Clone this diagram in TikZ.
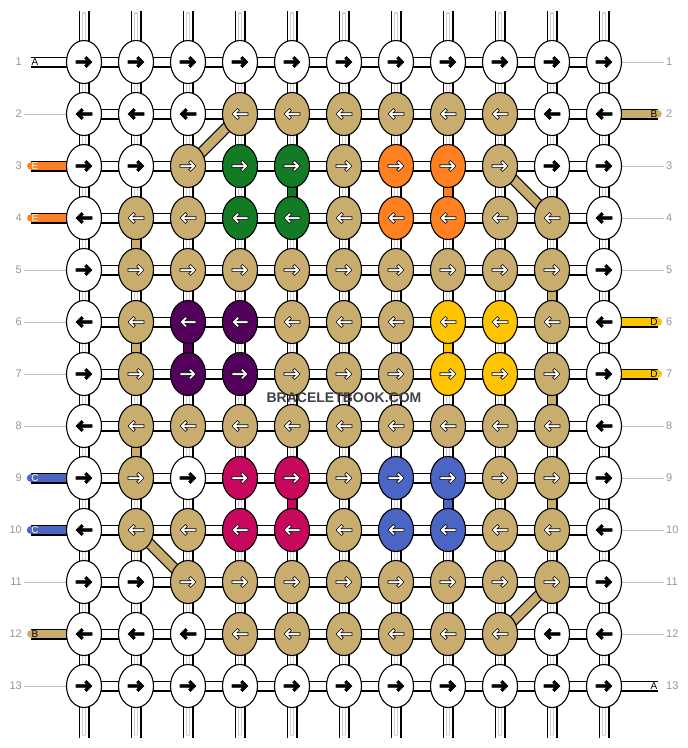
\documentclass[tikz,border=0pt]{standalone}
\usepackage{fontspec}
\setmainfont{Liberation Sans}
\usetikzlibrary{calc,shapes.geometric}

\definecolor{kw}{RGB}{255,255,255}
\definecolor{kt}{RGB}{201,173,111}
\definecolor{kg}{RGB}{19,122,38}
\definecolor{ko}{RGB}{255,128,32}
\definecolor{kp}{RGB}{82,0,92}
\definecolor{ky}{RGB}{255,196,0}
\definecolor{km}{RGB}{200,8,92}
\definecolor{kb}{RGB}{74,101,196}
\definecolor{lbl}{RGB}{150,150,150}
\definecolor{site}{RGB}{64,64,64}
% arrow fill and arrow outline for each knot colour
\colorlet{akw}{black}\colorlet{okw}{black}
\colorlet{akt}{white}\colorlet{okt}{black}
\colorlet{akg}{white}\colorlet{okg}{black}
\colorlet{ako}{white}\colorlet{oko}{black}
\colorlet{akp}{white}\colorlet{okp}{black}
\colorlet{aky}{white}\colorlet{oky}{black}
\colorlet{akm}{white}\colorlet{okm}{black}
\colorlet{akb}{white}\colorlet{okb}{black}

\pgfdeclarelayer{back}
\pgfsetlayers{back,main}

\tikzset{
  knot/.style={ellipse, draw, line width=1.1, minimum width=35, minimum height=43, inner sep=0},
  bar/.style={draw=#1, line width=8.8, preaction={draw=black, line width=11}},
  bar/.default=white,
  twin/.style={draw=white, line width=1.8, preaction={draw=lbl!45, line width=3.4}},
  num/.style={text=lbl, inner sep=2, font=\fontsize{11}{13}\selectfont},
  tag/.style={inner sep=0, font=\fontsize{10}{12}\selectfont},
  guide/.style={draw=lbl!60, line width=1},
  wmark/.style={text=site, font=\bfseries\fontsize{14}{16}\selectfont}
}

% arrow pointing right, centred on the origin
\def\arrowpath{(-8,-1.3) -- (3.02,-1.3) -- (0.66,-3.66) -- (2.5,-5.5) -- (8,0)
  -- (2.5,5.5) -- (0.66,3.66) -- (3.02,1.3) -- (-8,1.3) -- cycle}

% row, direction (1 right, -1 left), knot colours
\def\knotrow#1#2#3{%
  \foreach \col [count=\i] in {#3} {
    \node[knot, fill=\col] (k-#1-\i) at ({84+52*(\i-1)}, {62+52*(#1-1)}) {};
    \filldraw[shift={(k-#1-\i.center)}, xscale=#2, fill=a\col, draw=o\col, line width=0.6]
      \arrowpath;
  }}

\begin{document}
\begin{tikzpicture}[x=1pt, y=-1pt]
\useasboundingbox (0,0) rectangle (688,748);

\knotrow{1}{1}{kw,kw,kw,kw,kw,kw,kw,kw,kw,kw,kw}
\knotrow{2}{-1}{kw,kw,kw,kt,kt,kt,kt,kt,kt,kw,kw}
\knotrow{3}{1}{kw,kw,kt,kg,kg,kt,ko,ko,kt,kw,kw}
\knotrow{4}{-1}{kw,kt,kt,kg,kg,kt,ko,ko,kt,kt,kw}
\knotrow{5}{1}{kw,kt,kt,kt,kt,kt,kt,kt,kt,kt,kw}
\knotrow{6}{-1}{kw,kt,kp,kp,kt,kt,kt,ky,ky,kt,kw}
\knotrow{7}{1}{kw,kt,kp,kp,kt,kt,kt,ky,ky,kt,kw}
\knotrow{8}{-1}{kw,kt,kt,kt,kt,kt,kt,kt,kt,kt,kw}
\knotrow{9}{1}{kw,kt,kw,km,km,kt,kb,kb,kt,kt,kw}
\knotrow{10}{-1}{kw,kt,kt,km,km,kt,kb,kb,kt,kt,kw}
\knotrow{11}{1}{kw,kw,kt,kt,kt,kt,kt,kt,kt,kt,kw}
\knotrow{12}{-1}{kw,kw,kw,kt,kt,kt,kt,kt,kt,kw,kw}
\knotrow{13}{1}{kw,kw,kw,kw,kw,kw,kw,kw,kw,kw,kw}

% row numbers
\foreach \r in {1,...,13} {
  \node[num, anchor=east] (nl-\r) at (24, {62+52*(\r-1)}) {\r};
  \node[num, anchor=west] (nr-\r) at (664, {62+52*(\r-1)}) {\r};
}

% string ends
\foreach \r/\t/\tc in {1/A/black, 3/E/white, 4/E/white, 9/C/white, 10/C/white, 12/B/black}
  \node[tag, text=\tc] (sl-\r) at (35, {62+52*(\r-1)}) {\t};
\foreach \r/\t in {2/B, 6/D, 7/D, 13/A}
  \node[tag] (sr-\r) at (654, {62+52*(\r-1)}) {\t};

\node[wmark] (site) at (344,398) {BRACELETBOOK.COM};

\begin{pgfonlayer}{back}
  % threads along the rows
  \foreach \r in {1,...,13}
    \foreach \i [count=\j from 2] in {1,...,10}
      \draw[bar] (k-\r-\i.center) -- (k-\r-\j.center);
  % threads between the rows
  \foreach \r [count=\s from 2] in {1,...,12}
    \foreach \i in {1,...,11}
      \draw[bar, postaction={twin}] (k-\r-\i.center) -- (k-\s-\i.center);
  \foreach \r/\i/\col in {3/5/kg, 3/8/ko, 4/2/kt, 5/10/kt, 6/2/kt, 6/3/kp, 6/8/ky,
                          7/10/kt, 8/2/kt, 9/5/km, 9/8/kb, 9/10/kt} {
    \pgfmathtruncatemacro\s{\r+1}
    \draw[bar=\col] (k-\r-\i.center) -- (k-\s-\i.center);
  }
  \draw[bar=kt] (k-2-4.center) -- (k-3-3.center);
  \draw[bar=kt] (k-3-9.center) -- (k-4-10.center);
  \draw[bar=kt] (k-10-2.center) -- (k-11-3.center);
  \draw[bar=kt] (k-11-10.center) -- (k-12-9.center);
  % loose ends at top and bottom
  \foreach \i in {1,...,11} {
    \draw[bar, line cap=round, postaction={twin, line cap=butt, shorten >=3}]
      (k-1-\i.center) -- ++(0,-51.5);
    \draw[bar, line cap=round, postaction={twin, line cap=butt, shorten >=3}]
      (k-13-\i.center) -- ++(0,51.5);
  }
  % coloured strings and guide lines at the sides
  \foreach \r/\col in {1/kw, 3/ko, 4/ko, 9/kb, 10/kb, 12/kt}
    \draw[bar=\col, line cap=round] (k-\r-1.center) -- (sl-\r.west);
  \foreach \r/\col in {2/kt, 6/ky, 7/ky, 13/kw}
    \draw[bar=\col, line cap=round] (k-\r-11.center) -- (sr-\r.east);
  \foreach \r in {2,5,6,7,8,11,13}
    \draw[guide] (k-\r-1.west) -- (nl-\r.east);
  \foreach \r in {1,3,4,5,8,9,10,11,12}
    \draw[guide] (k-\r-11.east) -- (nr-\r.west);
\end{pgfonlayer}
\end{tikzpicture}
\end{document}
